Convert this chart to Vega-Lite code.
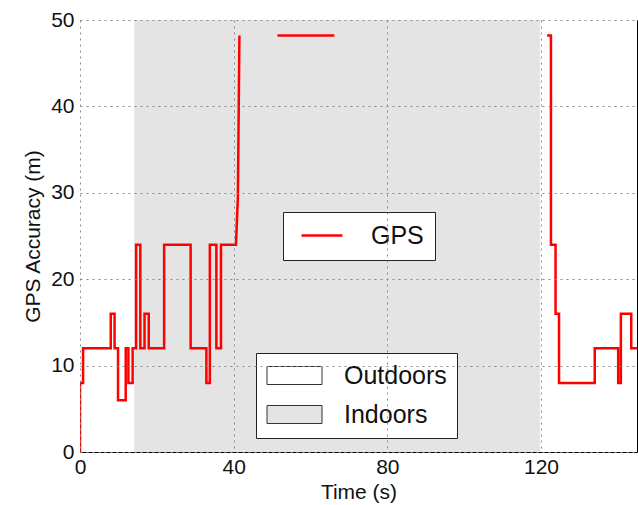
{
  "$schema": "https://vega.github.io/schema/vega-lite/v6.json",
  "width": 557,
  "height": 432,
  "autosize": {"type": "none"},
  "padding": {"left": 80, "top": 20, "right": 1, "bottom": 53},
  "background": "white",
  "config": {
    "view": {"stroke": "#000", "strokeWidth": 1},
    "font": "Liberation Sans",
    "axis": {
      "labelFont": "Liberation Sans",
      "titleFont": "Liberation Sans",
      "labelFontSize": 21,
      "titleFontSize": 21,
      "titleFontWeight": "normal",
      "labelColor": "#111",
      "titleColor": "#111",
      "labelFlush": false,
      "domain": false,
      "ticks": false,
      "gridColor": "#888",
      "gridDash": [2, 4],
      "gridWidth": 1
    },
    "legend": {
      "labelFont": "Liberation Sans",
      "labelFontSize": 25,
      "labelColor": "#111",
      "strokeColor": "#222",
      "fillColor": "white",
      "orient": "none",
      "title": null
    }
  },
  "datasets": {
    "env": [
      {"start": 0, "end": 14.1, "env": "Outdoors"},
      {"start": 14.1, "end": 119.8, "env": "Indoors"},
      {"start": 119.8, "end": 145, "env": "Outdoors"}
    ],
    "gps": [
      {"s": "A", "i": 0, "t": 0, "v": 0},
      {"s": "A", "i": 1, "t": 0, "v": 8},
      {"s": "A", "i": 2, "t": 0.8, "v": 8},
      {"s": "A", "i": 3, "t": 0.8, "v": 12},
      {"s": "A", "i": 4, "t": 8.0, "v": 12},
      {"s": "A", "i": 5, "t": 8.0, "v": 16},
      {"s": "A", "i": 6, "t": 9.0, "v": 16},
      {"s": "A", "i": 7, "t": 9.0, "v": 12},
      {"s": "A", "i": 8, "t": 9.9, "v": 12},
      {"s": "A", "i": 9, "t": 9.9, "v": 6},
      {"s": "A", "i": 10, "t": 11.9, "v": 6},
      {"s": "A", "i": 11, "t": 11.9, "v": 12},
      {"s": "A", "i": 12, "t": 12.6, "v": 12},
      {"s": "A", "i": 13, "t": 12.6, "v": 8},
      {"s": "A", "i": 14, "t": 13.7, "v": 8},
      {"s": "A", "i": 15, "t": 13.7, "v": 12},
      {"s": "A", "i": 16, "t": 14.6, "v": 12},
      {"s": "A", "i": 17, "t": 14.6, "v": 24},
      {"s": "A", "i": 18, "t": 15.7, "v": 24},
      {"s": "A", "i": 19, "t": 15.7, "v": 12},
      {"s": "A", "i": 20, "t": 16.8, "v": 12},
      {"s": "A", "i": 21, "t": 16.8, "v": 16},
      {"s": "A", "i": 22, "t": 17.9, "v": 16},
      {"s": "A", "i": 23, "t": 17.9, "v": 12},
      {"s": "A", "i": 24, "t": 21.9, "v": 12},
      {"s": "A", "i": 25, "t": 21.9, "v": 24},
      {"s": "A", "i": 26, "t": 28.8, "v": 24},
      {"s": "A", "i": 27, "t": 28.8, "v": 12},
      {"s": "A", "i": 28, "t": 32.9, "v": 12},
      {"s": "A", "i": 29, "t": 32.9, "v": 8},
      {"s": "A", "i": 30, "t": 33.8, "v": 8},
      {"s": "A", "i": 31, "t": 33.8, "v": 24},
      {"s": "A", "i": 32, "t": 35.5, "v": 24},
      {"s": "A", "i": 33, "t": 35.5, "v": 12},
      {"s": "A", "i": 34, "t": 36.7, "v": 12},
      {"s": "A", "i": 35, "t": 36.7, "v": 24},
      {"s": "A", "i": 36, "t": 40.6, "v": 24},
      {"s": "A", "i": 37, "t": 41.1, "v": 29.5},
      {"s": "A", "i": 38, "t": 41.5, "v": 48.2},
      {"s": "B", "i": 39, "t": 51.4, "v": 48.2},
      {"s": "B", "i": 40, "t": 66.2, "v": 48.2},
      {"s": "C", "i": 41, "t": 121.6, "v": 48.2},
      {"s": "C", "i": 42, "t": 122.6, "v": 48.2},
      {"s": "C", "i": 43, "t": 122.6, "v": 24},
      {"s": "C", "i": 44, "t": 123.8, "v": 24},
      {"s": "C", "i": 45, "t": 123.8, "v": 16},
      {"s": "C", "i": 46, "t": 124.7, "v": 16},
      {"s": "C", "i": 47, "t": 124.7, "v": 8},
      {"s": "C", "i": 48, "t": 134.0, "v": 8},
      {"s": "C", "i": 49, "t": 134.0, "v": 12},
      {"s": "C", "i": 50, "t": 140.1, "v": 12},
      {"s": "C", "i": 51, "t": 140.1, "v": 8},
      {"s": "C", "i": 52, "t": 140.8, "v": 8},
      {"s": "C", "i": 53, "t": 140.8, "v": 16},
      {"s": "C", "i": 54, "t": 143.5, "v": 16},
      {"s": "C", "i": 55, "t": 143.5, "v": 12},
      {"s": "C", "i": 56, "t": 145, "v": 12}
    ]
  },
  "layer": [
    {
      "data": {"name": "env"},
      "mark": {"type": "rect"},
      "encoding": {
        "x": {"field": "start", "type": "quantitative", "scale": {"domain": [0, 145], "nice": false},
              "axis": {"values": [0, 40, 80, 120], "title": "Time (s)", "labelPadding": 4, "titlePadding": 4, "zindex": 1}},
        "x2": {"field": "end"},
        "fill": {
          "field": "env", "type": "nominal",
          "scale": {"domain": ["Outdoors", "Indoors"], "range": ["#ffffff", "#e4e4e4"]},
          "legend": {
            "legendX": 176, "legendY": 333,
            "symbolType": "M-2.75,-0.9L2.75,-0.9L2.75,0.9L-2.75,0.9Z",
            "symbolSize": 400,
            "symbolOffset": 16,
            "symbolStrokeColor": "#333",
            "symbolStrokeWidth": 1,
            "labelOffset": 37,
            "padding": 10,
            "rowPadding": 13
          }
        }
      }
    },
    {
      "data": {"name": "gps"},
      "mark": {"type": "line", "strokeWidth": 2.5, "clip": true},
      "encoding": {
        "x": {"field": "t", "type": "quantitative"},
        "y": {"field": "v", "type": "quantitative", "scale": {"domain": [0, 50], "nice": false},
              "axis": {"values": [0, 10, 20, 30, 40, 50], "title": "GPS Accuracy (m)", "labelPadding": 6, "titlePadding": 7, "zindex": 1}},
        "detail": {"field": "s"},
        "order": {"field": "i", "type": "quantitative"},
        "color": {
          "datum": "GPS",
          "scale": {"range": ["#ff0000"]},
          "legend": {
            "legendX": 203, "legendY": 192,
            "symbolType": "M-2.05,0L2.05,0",
            "symbolSize": 400,
            "symbolOffset": 15.5,
            "symbolStrokeWidth": 2.5,
            "labelOffset": 36.5,
            "padding": 11
          }
        }
      }
    }
  ]
}
